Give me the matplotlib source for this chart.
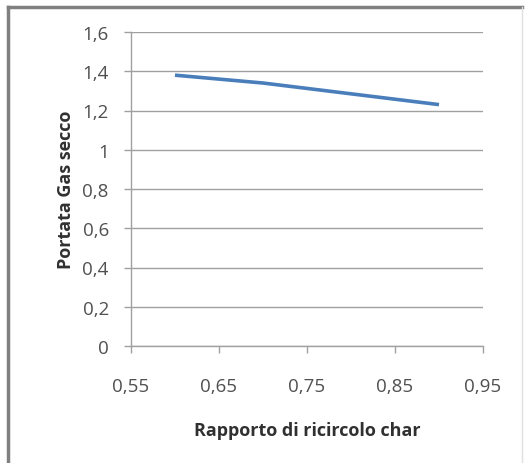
import matplotlib.pyplot as plt
from matplotlib.lines import Line2D
from matplotlib.ticker import FuncFormatter

# data
rapporto = [0.6, 0.7, 0.8, 0.9]
portata = [1.38, 1.34, 1.285, 1.23]

x_ticks = [0.55, 0.65, 0.75, 0.85, 0.95]
y_ticks = [0, 0.2, 0.4, 0.6, 0.8, 1, 1.2, 1.4, 1.6]

plt.rcParams['font.family'] = ['Open Sans', 'DejaVu Sans']

fig = plt.figure(figsize=(5.3, 4.64), dpi=100)
fig.patch.set_facecolor('white')
ax = fig.add_axes([131 / 530, 1 - 347 / 464, 352 / 530, 314 / 464])

ax.plot(rapporto, portata, color='#4A7EBB', linewidth=2.6, solid_capstyle='butt')

ax.set_xlim(0.55, 0.95)
ax.set_ylim(0, 1.6)
ax.set_xticks(x_ticks)
ax.set_yticks(y_ticks)

comma = FuncFormatter(lambda v, p: ('%g' % round(v, 2)).replace('.', ','))
ax.xaxis.set_major_formatter(comma)
ax.yaxis.set_major_formatter(comma)

ax.grid(axis='y', color='#a0a0a0', linewidth=1.0)
ax.set_axisbelow(True)
for s in ['top', 'right']:
    ax.spines[s].set_visible(False)
for s in ['left', 'bottom']:
    ax.spines[s].set_color('#a0a0a0')
    ax.spines[s].set_linewidth(1.0)

ax.tick_params(axis='both', colors='#a0a0a0', length=5, width=1, labelcolor='#505050', labelsize=13.5)
ax.tick_params(axis='x', pad=17)
ax.tick_params(axis='y', pad=11)

ax.set_xlabel('Rapporto di ricircolo char', fontsize=13, fontweight='bold', color='#303030', labelpad=19)
ax.set_ylabel('Portata Gas secco', fontsize=13, fontweight='bold', color='#303030', labelpad=5)

# outer chart frame
fig.add_artist(Line2D([8 / 530, 522 / 530], [1 - 8 / 464, 1 - 8 / 464], color='#808080', linewidth=2.5))
fig.add_artist(Line2D([8 / 530, 8 / 530], [0, 1 - 8 / 464], color='#808080', linewidth=2.5))
fig.add_artist(Line2D([522 / 530, 522 / 530], [0, 1 - 8 / 464], color='#e0e0e0', linewidth=1))

fig.savefig('out.png', dpi=100)
